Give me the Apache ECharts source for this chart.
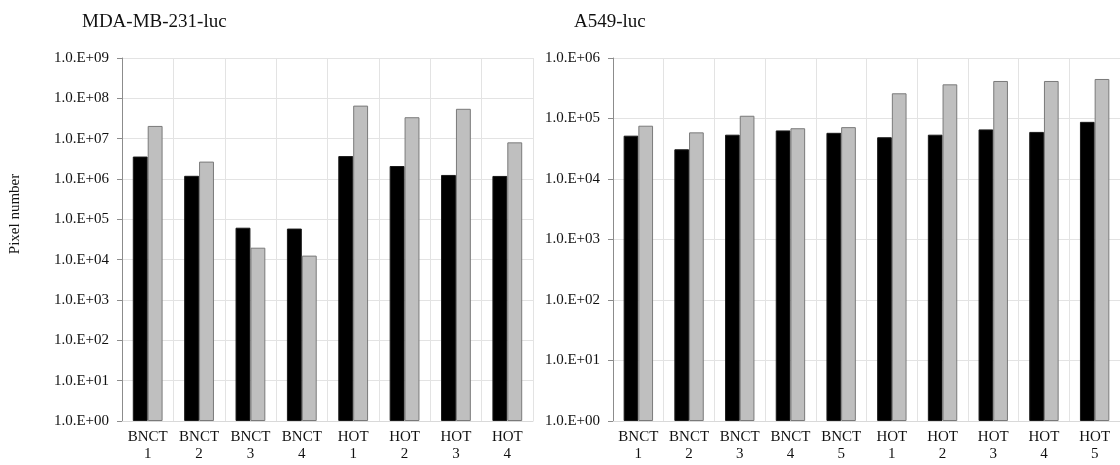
<!DOCTYPE html>
<html>
<head>
<meta charset="utf-8">
<script src="https://cdn.jsdelivr.net/npm/echarts@6/dist/echarts.min.js"></script>
<style>
  html, body { margin: 0; padding: 0; background: #fff; }
  #chart { width: 1120px; height: 465px; }
</style>
</head>
<body>
<div id="chart"></div>
<script>
// left panel: MDA-MB-231-luc
var mdaCategories = ['BNCT\n1', 'BNCT\n2', 'BNCT\n3', 'BNCT\n4', 'HOT\n1', 'HOT\n2', 'HOT\n3', 'HOT\n4'];
var mdaBlack = [3.6e6, 1.2e6, 6.2e4, 5.9e4, 3.7e6, 2.1e6, 1.26e6, 1.19e6];
var mdaGray = [2.07e7, 2.7e6, 1.98e4, 1.26e4, 6.6e7, 3.4e7, 5.5e7, 8.1e6];

// right panel: A549-luc
var a549Categories = ['BNCT\n1', 'BNCT\n2', 'BNCT\n3', 'BNCT\n4', 'BNCT\n5', 'HOT\n1', 'HOT\n2', 'HOT\n3', 'HOT\n4', 'HOT\n5'];
var a549Black = [5.2e4, 3.1e4, 5.4e4, 6.35e4, 5.8e4, 4.9e4, 5.4e4, 6.6e4, 6.0e4, 8.8e4];
var a549Gray = [7.6e4, 5.9e4, 1.11e5, 6.9e4, 7.2e4, 2.61e5, 3.67e5, 4.17e5, 4.17e5, 4.5e5];

var serif = '"Liberation Serif", "DejaVu Serif", serif';

// tick labels look like 1.0.E+06
function expLabel(v) {
    var e = Math.round(Math.log10(v));
    return '1.0.E+' + (e < 10 ? '0' : '') + e;
}

function catAxis(idx, data) {
    return {
        type: 'category',
        gridIndex: idx,
        data: data,
        axisLine: { lineStyle: { color: '#d9d9d9' } },
        axisTick: { show: false },
        splitLine: { show: true, lineStyle: { color: '#e3e3e3' } },
        axisLabel: { color: '#111', fontFamily: serif, fontSize: 15, lineHeight: 17, margin: 8, interval: 0 }
    };
}

function logAxis(idx, max, split) {
    return {
        type: 'log',
        logBase: 10,
        gridIndex: idx,
        min: 1,
        max: max,
        splitNumber: split,
        axisLine: { show: true, lineStyle: { color: '#8c8c8c' } },
        axisTick: { show: true, length: 5, lineStyle: { color: '#8c8c8c' } },
        splitLine: { show: true, lineStyle: { color: '#e3e3e3' } },
        minorTick: { show: false },
        axisLabel: { color: '#111', fontFamily: serif, fontSize: 15, margin: 13, formatter: expLabel }
    };
}

var blackStyle = { color: '#000', borderColor: '#1a1a1a', borderWidth: 1 };
var grayStyle = { color: '#bfbfbf', borderColor: '#7a7a7a', borderWidth: 1 };

var chart = echarts.init(document.getElementById('chart'));
var option = {
    animation: false,
    backgroundColor: '#fff',
    title: [
        { text: 'MDA-MB-231-luc', left: 77, top: 8, textStyle: { fontFamily: serif, fontSize: 19, fontWeight: 'normal', color: '#111' } },
        { text: 'A549-luc', left: 569, top: 8, textStyle: { fontFamily: serif, fontSize: 19, fontWeight: 'normal', color: '#111' } }
    ],
    // y axis title sits a bit above the plot middle
    graphic: [{
        type: 'text',
        x: 15,
        y: 214,
        rotation: Math.PI / 2,
        style: {
            text: 'Pixel number',
            font: '15px ' + serif,
            fill: '#111',
            align: 'center',
            verticalAlign: 'middle'
        }
    }],
    grid: [
        { left: 122, top: 58, width: 411, height: 363 },
        { left: 613, top: 58, width: 518, height: 363 }
    ],
    xAxis: [catAxis(0, mdaCategories), catAxis(1, a549Categories)],
    yAxis: [logAxis(0, 1e9, 9), logAxis(1, 1e6, 6)],
    series: [
        { type: 'bar', xAxisIndex: 0, yAxisIndex: 0, data: mdaBlack, itemStyle: blackStyle, barGap: '0%', barCategoryGap: '42%' },
        { type: 'bar', xAxisIndex: 0, yAxisIndex: 0, data: mdaGray, itemStyle: grayStyle, barGap: '0%', barCategoryGap: '42%' },
        { type: 'bar', xAxisIndex: 1, yAxisIndex: 1, data: a549Black, itemStyle: blackStyle, barGap: '0%', barCategoryGap: '42%' },
        { type: 'bar', xAxisIndex: 1, yAxisIndex: 1, data: a549Gray, itemStyle: grayStyle, barGap: '0%', barCategoryGap: '42%' }
    ]
};
chart.setOption(option);
</script>
</body>
</html>
